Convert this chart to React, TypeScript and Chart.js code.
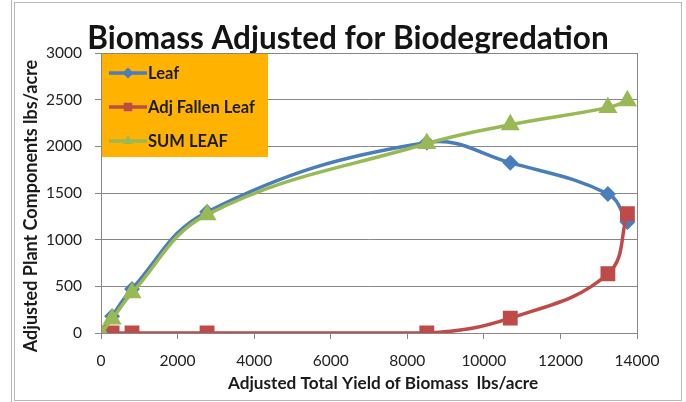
import React, { useEffect, useRef } from "react";
import { Chart, registerables } from "chart.js";

Chart.register(...registerables);

const xValues = [0, 290, 810, 2770, 8510, 10690, 13240, 13750];
const leafValues = [0, 180, 472, 1297, 2040, 1825, 1490, 1190];
const fallenValues = [0, 0, 0, 0, 0, 160, 635, 1280];
const sumValues = [0, 150, 430, 1268, 2030, 2232, 2415, 2488];
const seriesNames = ["Leaf", "Adj Fallen Leaf", "SUM LEAF"];
const seriesColors = ["#4A7EBB", "#BE4B48", "#98B954"];
const seriesMarkers = ["rectRot", "rect", "triangle"];
const seriesRadius = [5.5, 8, 7.5];
const xTickStep = 2000;
const yTickStep = 500;
const chartTitle = "Biomass Adjusted for Biodegredation";
const xTitle = "Adjusted Total Yield of Biomass  lbs/acre";
const yTitle = "Adjusted Plant Components lbs/acre";

const FONT = "Lato, 'Open Sans', sans-serif";

function drawMarker(ctx: CanvasRenderingContext2D, style: string, x: number, y: number, r: number) {
  ctx.beginPath();
  if (style === "rectRot") {
    ctx.moveTo(x, y - r);
    ctx.lineTo(x + r, y);
    ctx.lineTo(x, y + r);
    ctx.lineTo(x - r, y);
  } else if (style === "rect") {
    const s = r * Math.SQRT1_2;
    ctx.rect(x - s, y - s, 2 * s, 2 * s);
  } else {
    const h = r;
    ctx.moveTo(x, y - h);
    ctx.lineTo(x + h * Math.sin(Math.PI / 3), y + h / 2);
    ctx.lineTo(x - h * Math.sin(Math.PI / 3), y + h / 2);
  }
  ctx.closePath();
  ctx.fill();
}

const framePlugin = {
  id: "frame",
  afterLayout(chart: any) {
    const tb = chart.titleBlock;
    if (tb) {
      tb.left = 10;
      tb.right = 686;
      tb.width = 676;
    }
  },
  beforeDraw(chart: any) {
    const { ctx } = chart;
    ctx.save();
    ctx.fillStyle = "#ffffff";
    ctx.fillRect(0, 0, chart.width, chart.height);
    ctx.strokeStyle = "#b8b8b8";
    ctx.lineWidth = 1;
    ctx.strokeRect(14.5, 2.5, 667, 398);
    ctx.beginPath();
    ctx.moveTo(11.5, 0);
    ctx.lineTo(11.5, chart.height);
    ctx.stroke();
    ctx.restore();
  },
  afterDatasetsDraw(chart: any) {
    const { ctx, chartArea } = chart;
    ctx.save();
    ctx.strokeStyle = "#878787";
    ctx.lineWidth = 1;
    ctx.strokeRect(
      Math.round(chartArea.left) + 0.5,
      Math.round(chartArea.top) + 0.5,
      Math.round(chartArea.right - chartArea.left),
      Math.round(chartArea.bottom - chartArea.top)
    );
    // legend box
    const x0 = chartArea.left;
    const y0 = chartArea.top;
    ctx.fillStyle = "#FFB300";
    ctx.fillRect(x0 + 1, y0 + 1, 166, 103);
    chart.data.datasets.forEach((ds: any, i: number) => {
      const cy = y0 + 20 + i * 34;
      ctx.strokeStyle = ds.borderColor;
      ctx.fillStyle = ds.borderColor;
      ctx.lineWidth = 3.5;
      ctx.beginPath();
      ctx.moveTo(x0 + 8, cy);
      ctx.lineTo(x0 + 46, cy);
      ctx.stroke();
      drawMarker(ctx, ds.pointStyle, x0 + 27, cy, Math.min(ds.pointRadius, 6));
      ctx.fillStyle = "#1a1a1a";
      ctx.font = `bold 16.5px ${FONT}`;
      ctx.textBaseline = "middle";
      ctx.textAlign = "left";
      ctx.fillText(ds.label, x0 + 47, cy + 1);
    });
    // axis titles
    ctx.fillStyle = "#1a1a1a";
    ctx.textAlign = "center";
    ctx.textBaseline = "middle";
    ctx.font = `bold 17.2px ${FONT}`;
    ctx.fillText(xTitle, 383, 383);
    ctx.save();
    ctx.translate(31, 206);
    ctx.rotate(-Math.PI / 2);
    ctx.font = `bold 18px ${FONT}`;
    ctx.fillText(yTitle, 0, 0);
    ctx.restore();
    ctx.restore();
  },
};

export default function App() {
  const ref = useRef<HTMLCanvasElement | null>(null);
  useEffect(() => {
    if (!ref.current) return;
    const series = [leafValues, fallenValues, sumValues];
    const chart = new Chart(ref.current, {
      type: "scatter",
      data: {
        datasets: series.map((vals, i) => ({
          label: seriesNames[i],
          data: xValues.map((x, j) => ({ x, y: vals[j] })),
          showLine: true,
          borderColor: seriesColors[i],
          backgroundColor: seriesColors[i],
          pointBackgroundColor: seriesColors[i],
          pointBorderColor: seriesColors[i],
          pointStyle: seriesMarkers[i] as any,
          pointRadius: seriesRadius[i],
          borderWidth: 3.5,
          tension: 0.4,
          order: 3 - i,
        })),
      },
      options: {
        responsive: false,
        animation: false,
        layout: { padding: { left: 0, right: 49, top: 0, bottom: 0 } },
        plugins: {
          legend: { display: false },
          tooltip: { enabled: false },
          title: {
            display: true,
            text: chartTitle,
            color: "#141414",
            font: { family: FONT, size: 31.5, weight: "bold", lineHeight: 0.9 },
            padding: { top: 24.6, bottom: 0.05 },
          },
        },
        scales: {
          x: {
            type: "linear",
            min: 0,
            max: 14000,
            ticks: {
              stepSize: xTickStep,
              color: "#222",
              font: { family: FONT, size: 15.5 },
              padding: 13,
              callback: (v: any) => String(v),
            },
            grid: {
              drawOnChartArea: false,
              drawTicks: true,
              tickLength: 6,
              color: "#878787",
            },
            border: { color: "#878787" },
            afterFit(axis: any) {
              axis.height = 69;
            },
          },
          y: {
            min: 0,
            max: 3000,
            ticks: {
              stepSize: yTickStep,
              color: "#222",
              font: { family: FONT, size: 15.5 },
              padding: 13,
              callback: (v: any) => String(v),
            },
            grid: {
              color: "#878787",
              tickLength: 6,
            },
            border: { color: "#878787" },
            afterFit(axis: any) {
              axis.width = 101;
            },
          },
        },
      },
      plugins: [framePlugin],
    });
    return () => chart.destroy();
  }, []);
  return (
    <div style={{ position: "absolute", left: 0, top: 0, width: 686, height: 402 }}>
      <canvas ref={ref} width={686} height={402} />
    </div>
  );
}
